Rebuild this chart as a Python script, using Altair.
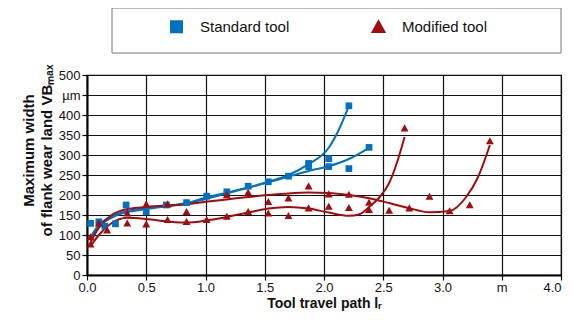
import altair as alt
import pandas as pd

BLUE = "#0070C0"
RED = "#A30B0E"

# Measured points
std_x = [0.03, 0.10, 0.15, 0.24, 0.33, 0.50, 0.67, 0.84, 1.01, 1.18, 1.36, 1.53, 1.70, 1.87, 1.87, 2.04, 2.04, 2.21, 2.21, 2.38]
std_y = [129, 133, 122, 128, 175, 158, 175, 181, 197, 208, 222, 233, 247, 279, 271, 291, 271, 423, 266, 319]

mod_x = [0.03, 0.03, 0.10, 0.17, 0.34, 0.34, 0.50, 0.50, 0.68, 0.68, 0.84, 0.84, 1.01, 1.18, 1.18, 1.36, 1.36, 1.53, 1.53,
         1.70, 1.70, 1.87, 1.87, 2.04, 2.04, 2.21, 2.21, 2.38, 2.38, 2.55, 2.68, 2.72, 2.89, 3.06, 3.23, 3.40]
mod_y = [77, 95, 129, 112, 154, 129, 177, 127, 177, 138, 158, 133, 138, 200, 146, 206, 158, 183, 154,
         192, 148, 222, 167, 202, 171, 201, 168, 181, 163, 161, 367, 167, 196, 160, 175, 335]

# Trend curves
std1_x = [0.03, 0.10, 0.22, 0.34, 0.50, 0.68, 0.84, 1.00, 1.18, 1.36, 1.53, 1.70, 1.87, 2.04, 2.12, 2.21]
std1_y = [88, 120, 145, 157, 165, 172, 178, 190, 204, 218, 233, 250, 277, 318, 360, 423]
std2_x = [0.03, 0.10, 0.22, 0.34, 0.50, 0.68, 0.84, 1.00, 1.18, 1.36, 1.53, 1.70, 1.87, 2.04, 2.21, 2.38]
std2_y = [95, 125, 148, 160, 167, 173, 180, 193, 206, 219, 232, 246, 260, 272, 290, 318]
mod1_x = [0.03, 0.10, 0.20, 0.34, 0.50, 0.68, 0.84, 1.00, 1.18, 1.36, 1.53, 1.70, 1.87, 2.04, 2.21, 2.30, 2.40, 2.47, 2.55, 2.62, 2.68]
mod1_y = [72, 100, 128, 143, 140, 134, 131, 136, 145, 156, 166, 170, 166, 156, 148, 152, 175, 195, 230, 285, 345]
mod2_x = [0.03, 0.10, 0.20, 0.34, 0.50, 0.68, 0.84, 1.00, 1.18, 1.36, 1.53, 1.70, 1.87, 2.04, 2.21, 2.38, 2.55, 2.72, 2.89, 3.06, 3.20, 3.30, 3.40]
mod2_y = [82, 118, 148, 165, 170, 174, 177, 183, 189, 195, 200, 204, 206, 205, 200, 192, 180, 167, 157, 160, 195, 245, 325]

tools = ["Standard tool", "Modified tool"]
runs = ["s1", "s2", "m1", "m2"]
TRIANGLE = "M0,-1.15L1.18,0.95L-1.18,0.95Z"

pts = pd.DataFrame(
    {"x": std_x + mod_x, "y": std_y + mod_y,
     "tool": [tools[0]] * len(std_x) + [tools[1]] * len(mod_x)}
)
curves = pd.concat([
    pd.DataFrame({"x": std1_x, "y": std1_y, "run": "s1"}),
    pd.DataFrame({"x": std2_x, "y": std2_y, "run": "s2"}),
    pd.DataFrame({"x": mod1_x, "y": mod1_y, "run": "m1"}),
    pd.DataFrame({"x": mod2_x, "y": mod2_y, "run": "m2"}),
])

xs = alt.Scale(domain=[0, 4], nice=False)
ys = alt.Scale(domain=[0, 500], nice=False)

x_axis = alt.Axis(
    values=[0, 0.5, 1, 1.5, 2, 2.5, 3, 3.5, 4], format=".1f",
    labelExpr="datum.value == 3.5 ? 'm' : datum.label",
    labelFlush=False,
    labelAlign={"expr": "datum.value == 4 ? 'right' : 'center'"},
    labelOverlap=False,
    title="Tool travel path lᵣ", titleFontSize=14, titleFontWeight="bold",
    titlePadding=2,
)
y_axis = alt.Axis(
    values=list(range(0, 501, 50)), labelOverlap=False,
    labelExpr="datum.value == 450 ? 'µm' : datum.label",
    title=["Maximum width", "of flank wear land VBₘₐₓ"], titleFontSize=15,
    titleFontWeight="bold", titleLineHeight=18, titleY=75, titleX=-51,
)

legend = alt.Legend(orient="none", direction="horizontal", title=None,
                    legendX=82, legendY=-56, symbolSize=170,
                    labelFontSize=15, labelOffset=16, columnPadding=80,
                    symbolStrokeWidth=0, labelFont="Liberation Sans",
                    labelColor="#111")

lines = alt.Chart(curves).mark_line(strokeWidth=2, interpolate="monotone").encode(
    x=alt.X("x:Q", scale=xs, axis=x_axis),
    y=alt.Y("y:Q", scale=ys, axis=y_axis),
    stroke=alt.Stroke("run:N", scale=alt.Scale(domain=runs, range=[BLUE, BLUE, RED, RED]), legend=None),
)

points = alt.Chart(pts).mark_point(filled=True, opacity=1, size=45).encode(
    x=alt.X("x:Q", scale=xs, axis=x_axis),
    y=alt.Y("y:Q", scale=ys, axis=y_axis),
    color=alt.Color("tool:N", scale=alt.Scale(domain=tools, range=[BLUE, RED]), legend=legend),
    shape=alt.Shape("tool:N", scale=alt.Scale(domain=tools, range=["square", TRIANGLE]), legend=legend),
)

frame = alt.Chart(pd.DataFrame({"k": [0]})).mark_rect(
    fill="white", stroke="#777", strokeWidth=1
).encode(x=alt.value(25), x2=alt.value(474), y=alt.value(-67), y2=alt.value(-22))

chart = alt.layer(frame, lines, points).properties(
    width=474, height=200,
    padding={"left": 79, "top": 67, "right": 3, "bottom": 37},
    autosize=alt.AutoSizeParams(type="none"),
).configure_view(stroke="black", strokeWidth=1.2).configure_axis(
    labelFont="Liberation Sans", titleFont="Liberation Sans", labelFontSize=13,
    labelColor="#111", titleColor="#111",
    domainColor="black", domainWidth=2, gridColor="#111", gridWidth=1.2, gridOpacity=1,
    tickColor="black", tickSize=5, tickWidth=1.2,
).configure_axisX(labelPadding=1).configure_axisY(labelPadding=2)

chart.save("out.html", embed_options={"renderer": "svg", "actions": False})
